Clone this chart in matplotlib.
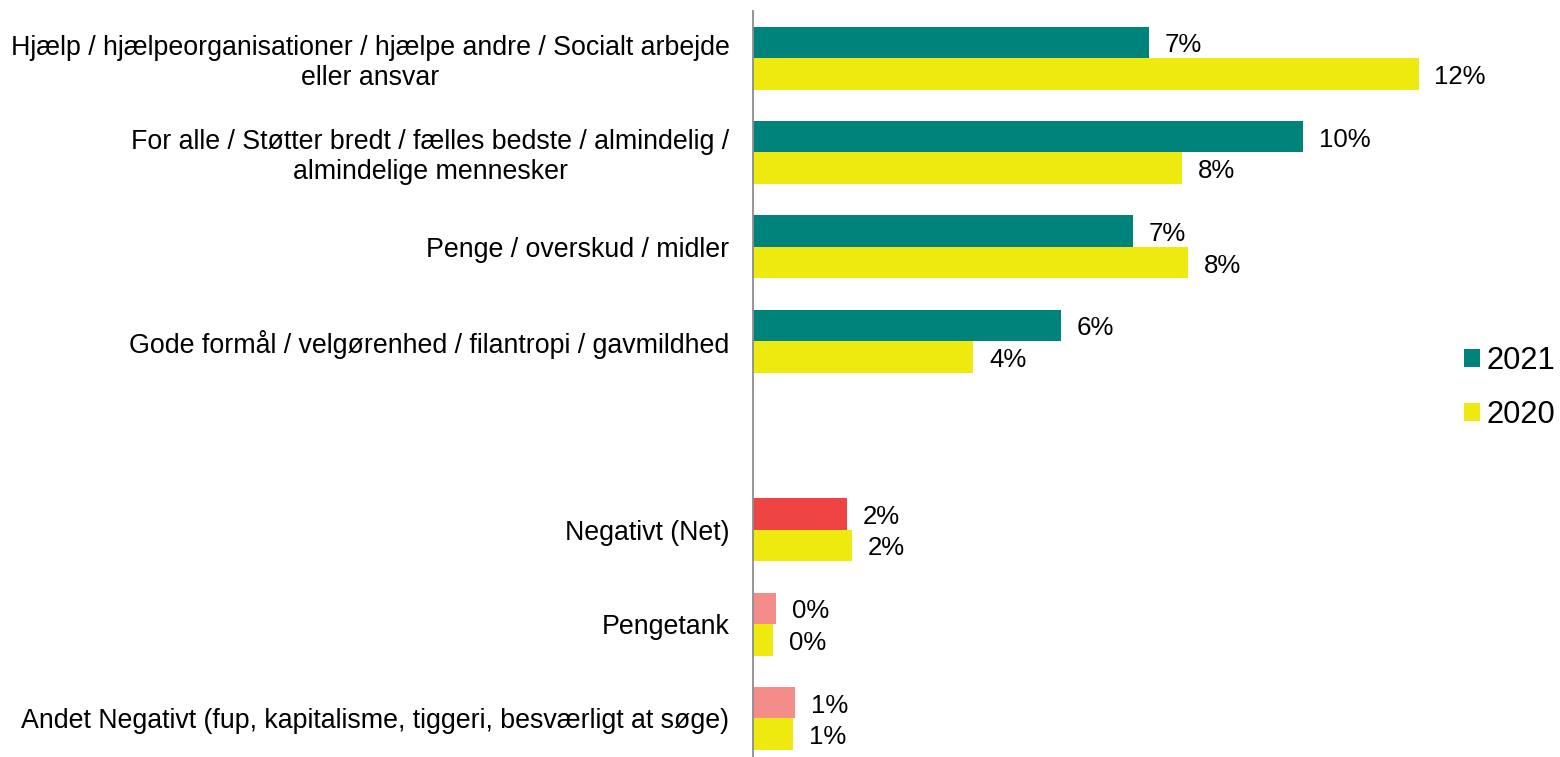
import matplotlib
matplotlib.use("Agg")
import matplotlib.pyplot as plt
from matplotlib.patches import Patch

# ---- data ----
categories = [
    "Hjælp / hjælpeorganisationer / hjælpe andre / Socialt arbejde\neller ansvar",
    "For alle / Støtter bredt / fælles bedste / almindelig /\nalmindelige mennesker",
    "Penge / overskud / midler",
    "Gode formål / velgørenhed / filantropi / gavmildhed",
    "Negativt (Net)",
    "Pengetank",
    "Andet Negativt (fup, kapitalisme, tiggeri, besværligt at søge)",
]
values_2021 = [7.2, 10.0, 6.9, 5.6, 1.7, 0.42, 0.76]
values_2020 = [12.1, 7.8, 7.9, 4.0, 1.8, 0.36, 0.73]
series_names = ["2021", "2020"]
n_positive = 4  # first group (positive), then one empty slot, then negative group

TEAL = "#00837A"
YELLOW = "#EEEA10"
RED = "#EF4444"
PINK = "#F48C8A"
colors_2021 = [TEAL] * 4 + [RED, PINK, PINK]

plt.rcParams["font.family"] = ["Liberation Sans", "DejaVu Sans"]

fig = plt.figure(figsize=(15.6, 7.57), dpi=100)
W, H = 1560, 757
ax_left, ax_right, ax_top = 753, 1460, 11
ax = fig.add_axes([ax_left / W, 0, (ax_right - ax_left) / W, 1 - ax_top / H])

positions = [i if i < n_positive else i + 1 for i in range(len(categories))]
bh = 0.334

bars21 = ax.barh([p - bh / 2 for p in positions], values_2021, height=bh,
                 color=colors_2021, edgecolor="none")
bars20 = ax.barh([p + bh / 2 for p in positions], values_2020, height=bh,
                 color=YELLOW, edgecolor="none")

for bars, vals in ((bars21, values_2021), (bars20, values_2020)):
    for b, v in zip(bars, vals):
        ax.annotate(f"{round(v)}%", xy=(b.get_width(), b.get_y() + b.get_height() / 2),
                    xytext=(16, -3), textcoords="offset pixels",
                    ha="left", va="center", fontsize=18.6, color="black")

ax.set_ylim(7.41, -0.5)
ax.set_xlim(0, (ax_right - ax_left) / 55.0)

ax.set_yticks(positions)
ax.set_yticklabels(categories, fontsize=19.3, color="black", linespacing=1.2)
for t in ax.get_yticklabels():
    t.set_multialignment("center")
ax.tick_params(axis="y", length=0, pad=17)
ax.set_xticks([])

for s in ("top", "right", "bottom"):
    ax.spines[s].set_visible(False)
ax.spines["left"].set_color("#8c8c8c")
ax.spines["left"].set_linewidth(1.3)

handles = [Patch(facecolor=TEAL, edgecolor="none"), Patch(facecolor=YELLOW, edgecolor="none")]
fig.legend(handles, series_names, loc="center left",
           bbox_to_anchor=(1464 / W, 1 - 388 / H), bbox_transform=fig.transFigure,
           frameon=False, fontsize=22.2, handlelength=0.52, handleheight=0.52,
           handletextpad=0.22, labelspacing=0.78, borderpad=0, borderaxespad=0)

fig.savefig("out.png", dpi=100)
